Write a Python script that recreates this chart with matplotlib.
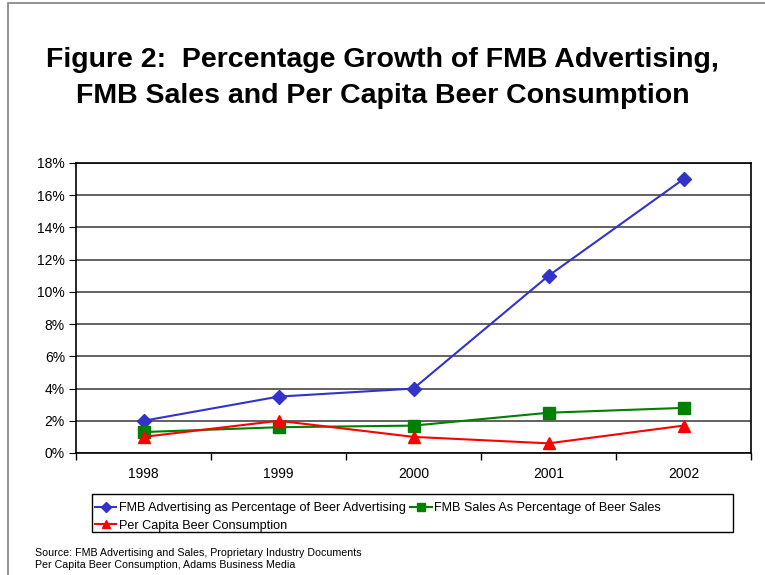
import matplotlib.pyplot as plt
from matplotlib.patches import Rectangle
from matplotlib.ticker import FuncFormatter

years = ["1998", "1999", "2000", "2001", "2002"]
fmb_advertising = [2.0, 3.5, 4.0, 11.0, 17.0]
fmb_sales = [1.3, 1.6, 1.7, 2.5, 2.8]
per_capita = [1.0, 2.0, 1.0, 0.6, 1.7]

plt.rcParams['font.family'] = ['Liberation Sans', 'DejaVu Sans']

fig = plt.figure(figsize=(7.65, 5.75), dpi=100)
fig.patches.append(Rectangle((8 / 765, -0.1), 1.2, 1.1 - 3 / 575, transform=fig.transFigure,
                             fill=False, edgecolor='#808080', linewidth=1.2))

ax = fig.add_axes([76 / 765, 1 - 453 / 575, 675 / 765, 290 / 575])
x = range(len(years))
l1, = ax.plot(x, fmb_advertising, color='#3333cc', marker='D', markersize=7, linewidth=1.5,
              label='FMB Advertising as Percentage of Beer Advertising')
l2, = ax.plot(x, fmb_sales, color='#008000', marker='s', markersize=8, linewidth=1.5,
              label='FMB Sales As Percentage of Beer Sales')
l3, = ax.plot(x, per_capita, color='#ff0000', marker='^', markersize=9, linewidth=1.5,
              label='Per Capita Beer Consumption')

ax.set_xlim(-0.5, 4.5)
ax.set_ylim(0, 18)
ax.set_yticks(range(0, 19, 2))
ax.yaxis.set_major_formatter(FuncFormatter(lambda v, p: f"{v:.0f}%"))
ax.set_xticks(x)
ax.set_xticklabels(years)
ax.set_xticks([i + 0.5 for i in range(-1, 5)], minor=True)
ax.tick_params(axis='x', which='major', length=0, pad=10, labelsize=10)
ax.tick_params(axis='x', which='minor', length=5, direction='out', width=1)
ax.tick_params(axis='y', length=5, direction='out', labelsize=10, pad=3)
ax.yaxis.grid(True, color='#555555', linewidth=1.3)
ax.set_axisbelow(True)
for s in ax.spines.values():
    s.set_color('black')
    s.set_linewidth(1.2)

# row-major order like the original legend; box drawn separately (it is wider than the entries)
leg = fig.legend([l1, l3, l2], [l1.get_label(), l3.get_label(), l2.get_label()],
                 loc='upper left', bbox_to_anchor=(95 / 765, 1 - 502 / 575), ncol=2,
                 fontsize=9.1, frameon=False,
                 handlelength=1.7, handletextpad=0.2, columnspacing=0.35,
                 borderpad=0, labelspacing=0.45, markerscale=0.7, borderaxespad=0)
fig.patches.append(Rectangle((92 / 765, 1 - 532 / 575), 641 / 765, 38 / 575, transform=fig.transFigure,
                             fill=False, edgecolor='black', linewidth=1.0))

fig.text(0.5, 1 - 78 / 575, "Figure 2:  Percentage Growth of FMB Advertising,\nFMB Sales and Per Capita Beer Consumption",
         ha='center', va='center', fontsize=20.5, fontweight='bold', linespacing=1.5)

fig.text(35 / 765, 1 - 559 / 575, "Source: FMB Advertising and Sales, Proprietary Industry Documents\nPer Capita Beer Consumption, Adams Business Media",
         ha='left', va='center', fontsize=7.7, linespacing=1.15)

fig.savefig("out.png", dpi=100)
